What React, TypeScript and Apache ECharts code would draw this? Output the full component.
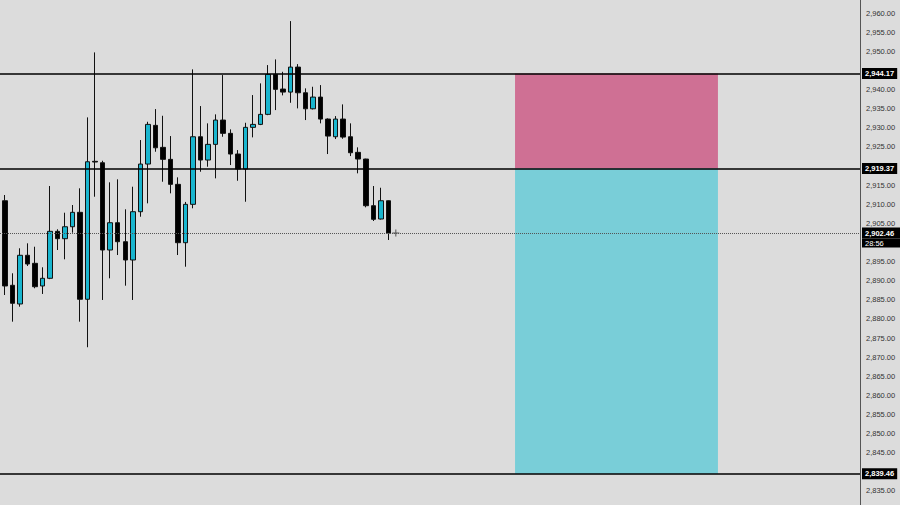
import React, { useEffect, useRef } from "react";
import * as echarts from "echarts";

const candleIndex = [0,1,2,3,4,5,6,7,8,9,10,11,12,13,14,15,16,17,18,19,20,21,22,23,24,25,26,27,28,29,30,31,32,33,34,35,36,37,38,39,40,41,42,43,44,45,46,47,48,49,50,51,52];
const opens = [2905.0,2910.91,2888.79,2883.90,2896.64,2894.54,2888.61,2890.62,2902.91,2900.98,2904.11,2907.88,2885.13,2921.22,2920.85,2898.02,2905.16,2900.19,2895.41,2908.04,2920.51,2930.63,2924.88,2921.74,2915.20,2899.93,2909.97,2927.65,2921.56,2925.66,2932.02,2928.54,2923.13,2919.20,2930.11,2930.89,2933.51,2943.97,2940.13,2939.34,2945.88,2939.16,2934.97,2938.03,2932.28,2927.65,2932.28,2927.65,2923.57,2921.82,2909.61,2906.13,2910.91];
const closes = [2911.1,2888.61,2884.08,2896.64,2894.36,2888.42,2890.62,2902.91,2900.98,2904.11,2907.88,2885.13,2921.11,2921.04,2898.02,2905.16,2900.19,2895.41,2908.04,2920.51,2930.89,2924.77,2921.74,2915.20,2899.93,2909.97,2927.65,2921.56,2925.66,2932.02,2928.54,2923.13,2919.20,2930.11,2930.89,2933.51,2943.97,2940.05,2939.34,2945.88,2939.16,2934.97,2938.03,2932.28,2927.83,2932.28,2927.57,2923.47,2921.82,2909.61,2906.05,2910.91,2902.46];
const lows = [2903.0,2886.25,2879.27,2883.19,2893.84,2888.01,2886.52,2890.40,2898.02,2895.59,2902.55,2879.27,2872.58,2911.96,2884.95,2890.62,2896.71,2888.69,2884.95,2906.73,2910.23,2923.73,2915.88,2912.85,2896.71,2893.65,2908.93,2918.50,2919.81,2916.77,2927.65,2920.25,2916.14,2910.65,2927.49,2930.70,2933.30,2934.63,2938.48,2936.54,2935.08,2932.02,2934.80,2931.16,2923.13,2927.05,2927.13,2922.60,2918.08,2909.19,2905.61,2906.00,2900.64];
const highs = [2914.5,2912.41,2891.93,2898.47,2899.77,2898.88,2893.50,2914.76,2903.44,2907.78,2909.79,2914.16,2932.72,2949.72,2921.37,2915.73,2916.51,2908.67,2914.58,2926.79,2931.57,2934.89,2933.14,2927.83,2917.03,2910.60,2945.28,2935.68,2931.16,2933.51,2943.79,2929.59,2924.17,2931.31,2938.56,2941.62,2946.40,2947.89,2944.65,2957.91,2946.66,2940.31,2940.73,2941.17,2932.46,2933.06,2936.12,2931.16,2924.88,2921.90,2914.76,2914.31,2911.00];

const levels = [2944.17, 2919.37, 2839.46];
const lastPrice = 2902.46;
const countdown = "28:56";
const zoneStart = 68.86;
const zoneEnd = 95.86;
const cursorIndex = 53;

const fmt = (v: number) =>
  Number(v).toLocaleString("en-US", { minimumFractionDigits: 2, maximumFractionDigits: 2 });

const hiddenByBox = (v: number) =>
  levels.some((l) => Math.abs(v - l) < 2.5) || (v <= lastPrice && v > lastPrice - 5);

export default function App() {
  const ref = useRef<HTMLDivElement>(null);
  useEffect(() => {
    const chart = echarts.init(ref.current!, null, { renderer: "svg" });
    const data = candleIndex.map((k, i) => [k, opens[i], closes[i], lows[i], highs[i]]);
    chart.setOption({
      animation: false,
      backgroundColor: "#DCDCDC",
      grid: { left: 0, right: 40, top: 0, bottom: 0 },
      xAxis: { type: "value", min: 0.3347, max: 114.76, show: false },
      yAxis: {
        type: "value",
        position: "right",
        min: 2830,
        max: 2965,
        interval: 5,
        axisLine: { show: true, lineStyle: { color: "#555", width: 1 } },
        axisTick: { show: false },
        splitLine: { show: false },
        axisLabel: {
          color: "#333",
          fontSize: 7.5,
          fontFamily: "Liberation Sans",
          margin: 6,
          showMinLabel: false,
          showMaxLabel: false,
          formatter: (v: number) => (hiddenByBox(v) ? "" : fmt(v)),
        },
      },
      series: [
        {
          type: "candlestick",
          data,
          encode: { x: 0, y: [1, 2, 3, 4] },
          barWidth: 5,
          itemStyle: {
            color: "#19B5CE",
            color0: "#000000",
            borderColor: "#111",
            borderColor0: "#111",
            borderWidth: 1,
          },
          markArea: {
            silent: true,
            data: [
              [
                { xAxis: zoneStart, yAxis: levels[0], itemStyle: { color: "#CF7094", opacity: 1 } },
                { xAxis: zoneEnd, yAxis: levels[1] },
              ],
              [
                { xAxis: zoneStart, yAxis: levels[1], itemStyle: { color: "#79CED8", opacity: 1 } },
                { xAxis: zoneEnd, yAxis: levels[2] },
              ],
            ],
          },
          markLine: {
            silent: true,
            symbol: ["none", "none"],
            lineStyle: { color: "#000", width: 1.5, type: "solid" },
            data: [
              ...levels.map((v) => ({
                yAxis: v,
                label: {
                  show: true,
                  position: "end",
                  distance: 2,
                  color: "#fff",
                  backgroundColor: "#000",
                  fontSize: 7.5,
                  fontWeight: "bold",
                  fontFamily: "Liberation Sans",
                  padding: [2, 3, 1, 3],
                  formatter: () => fmt(v),
                },
              })),
              {
                yAxis: lastPrice,
                lineStyle: { color: "#555", width: 1, type: "dotted" },
                label: {
                  show: true,
                  position: "end",
                  distance: 2,
                  formatter: () => `{c|}\n{a|${fmt(lastPrice)}}\n{b|${countdown}}`,
                  rich: {
                    c: { height: 9, fontSize: 7.5 },
                    a: {
                      color: "#fff",
                      backgroundColor: "#000",
                      fontSize: 7.5,
                      fontWeight: "bold",
                      fontFamily: "Liberation Sans",
                      width: 32,
                      height: 10,
                      padding: [1, 3, 0, 3],
                    },
                    b: {
                      color: "#fff",
                      backgroundColor: "#000",
                      fontSize: 7.5,
                      fontFamily: "Liberation Sans",
                      width: 32,
                      height: 9,
                      padding: [0, 3, 0, 3],
                    },
                  },
                },
              },
            ],
          },
        },
        {
          type: "scatter",
          silent: true,
          data: [[cursorIndex, lastPrice]],
          symbol: "path://M3,0H4V3H7V4H4V7H3V4H0V3H3Z",
          symbolSize: 7,
          itemStyle: { color: "#333" },
        },
      ],
    });
    return () => chart.dispose();
  }, []);
  return (
    <div style={{ position: "absolute", left: 0, top: 0, width: 900, height: 505, overflow: "hidden", background: "#DCDCDC" }}>
      <div
        ref={ref}
        style={{ position: "absolute", left: 0, top: -6, width: 900, height: 516 }}
      />
    </div>
  );
}
